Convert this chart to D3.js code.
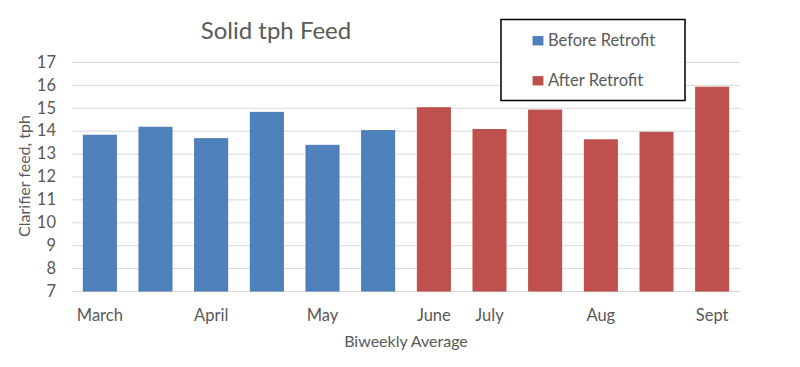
<!DOCTYPE html>
<html><head><meta charset="utf-8">
<script src="https://cdn.jsdelivr.net/npm/d3@7"></script>
<style>body{margin:0;background:#fff}svg{display:block}text{font-family:Lato,"Open Sans",sans-serif;fill:#595959}</style>
</head><body>
<svg id="c" width="800" height="367"></svg>
<script>
const categories = ["March","","April","","May","","June","July","","Aug","","Sept"];
const values = [13.8,14.15,13.65,14.8,13.36,14.0,15.0,14.05,14.9,13.6,13.93,15.9];
const groups = ["Before Retrofit","Before Retrofit","Before Retrofit","Before Retrofit","Before Retrofit","Before Retrofit","After Retrofit","After Retrofit","After Retrofit","After Retrofit","After Retrofit","After Retrofit"];
const seriesNames = ["Before Retrofit","After Retrofit"];
const seriesColors = ["#4F81BD","#C0504D"];
const yTicks = [7,8,9,10,11,12,13,14,15,16,17];

const svg = d3.select("#c");
const x = d3.scaleBand().domain(d3.range(categories.length)).range([72,740]).paddingInner(0.39).paddingOuter(0.195);
const y = d3.scaleLinear().domain([7,17]).range([291,62]);
const color = d3.scaleOrdinal().domain(seriesNames).range(seriesColors);
const stroke = d3.scaleOrdinal().domain(seriesNames).range(["#4677B4","#B84B48"]);

// grid
svg.append("g").selectAll("line").data(yTicks).join("line")
  .attr("x1",72).attr("x2",740).attr("y1",d=>y(d)+0.5).attr("y2",d=>y(d)+0.5)
  .attr("stroke","#d9d9d9").attr("stroke-width",1);

// y axis labels
const ya = svg.append("g").attr("transform","translate(56,0)")
  .call(d3.axisLeft(y).tickValues(yTicks).tickSize(0).tickPadding(0));
ya.select(".domain").remove();
ya.selectAll("text").style("font-size","16.5px").attr("fill","#595959").style("font-family","Lato,sans-serif");

// bars
svg.append("g").selectAll("rect").data(values).join("rect")
  .attr("x",(d,i)=>x(i)+0.5).attr("width",x.bandwidth()-1)
  .attr("y",d=>y(d)).attr("height",d=>y(7)-y(d))
  .attr("fill",(d,i)=>color(groups[i])).attr("stroke",(d,i)=>stroke(groups[i])).attr("stroke-width",1);

// x axis labels
const xa = svg.append("g").attr("transform","translate(0,306)")
  .call(d3.axisBottom(x).tickFormat(i=>categories[i]).tickSize(0).tickPadding(0));
xa.select(".domain").remove();
xa.selectAll("text").style("font-size","16.5px").attr("fill","#595959").attr("dy","0.9em").style("font-family","Lato,sans-serif");

// titles
svg.append("text").attr("x",276).attr("y",39).attr("text-anchor","middle").style("font-size","24px").text("Solid tph Feed");
svg.append("text").attr("x",406).attr("y",347).attr("text-anchor","middle").style("font-size","16px").text("Biweekly Average");
svg.append("text").attr("transform","translate(30,176) rotate(-90)").attr("text-anchor","middle").style("font-size","16px").text("Clarifier feed, tph");

// legend
const lg = svg.append("g");
lg.append("rect").attr("x",501).attr("y",19.5).attr("width",184).attr("height",81)
  .attr("fill","#fff").attr("stroke","#000").attr("stroke-width",1.5);
const items = lg.selectAll("g.it").data(seriesNames).join("g").attr("class","it")
  .attr("transform",(d,i)=>`translate(533,${36.5+i*40})`);
items.append("rect").attr("width",10).attr("height",8.5).attr("fill",d=>color(d)).attr("stroke",d=>stroke(d)).attr("stroke-width",0.8);
items.append("text").attr("x",15).attr("y",9.5).style("font-size","16.5px").text(d=>d);
</script>
</body></html>
